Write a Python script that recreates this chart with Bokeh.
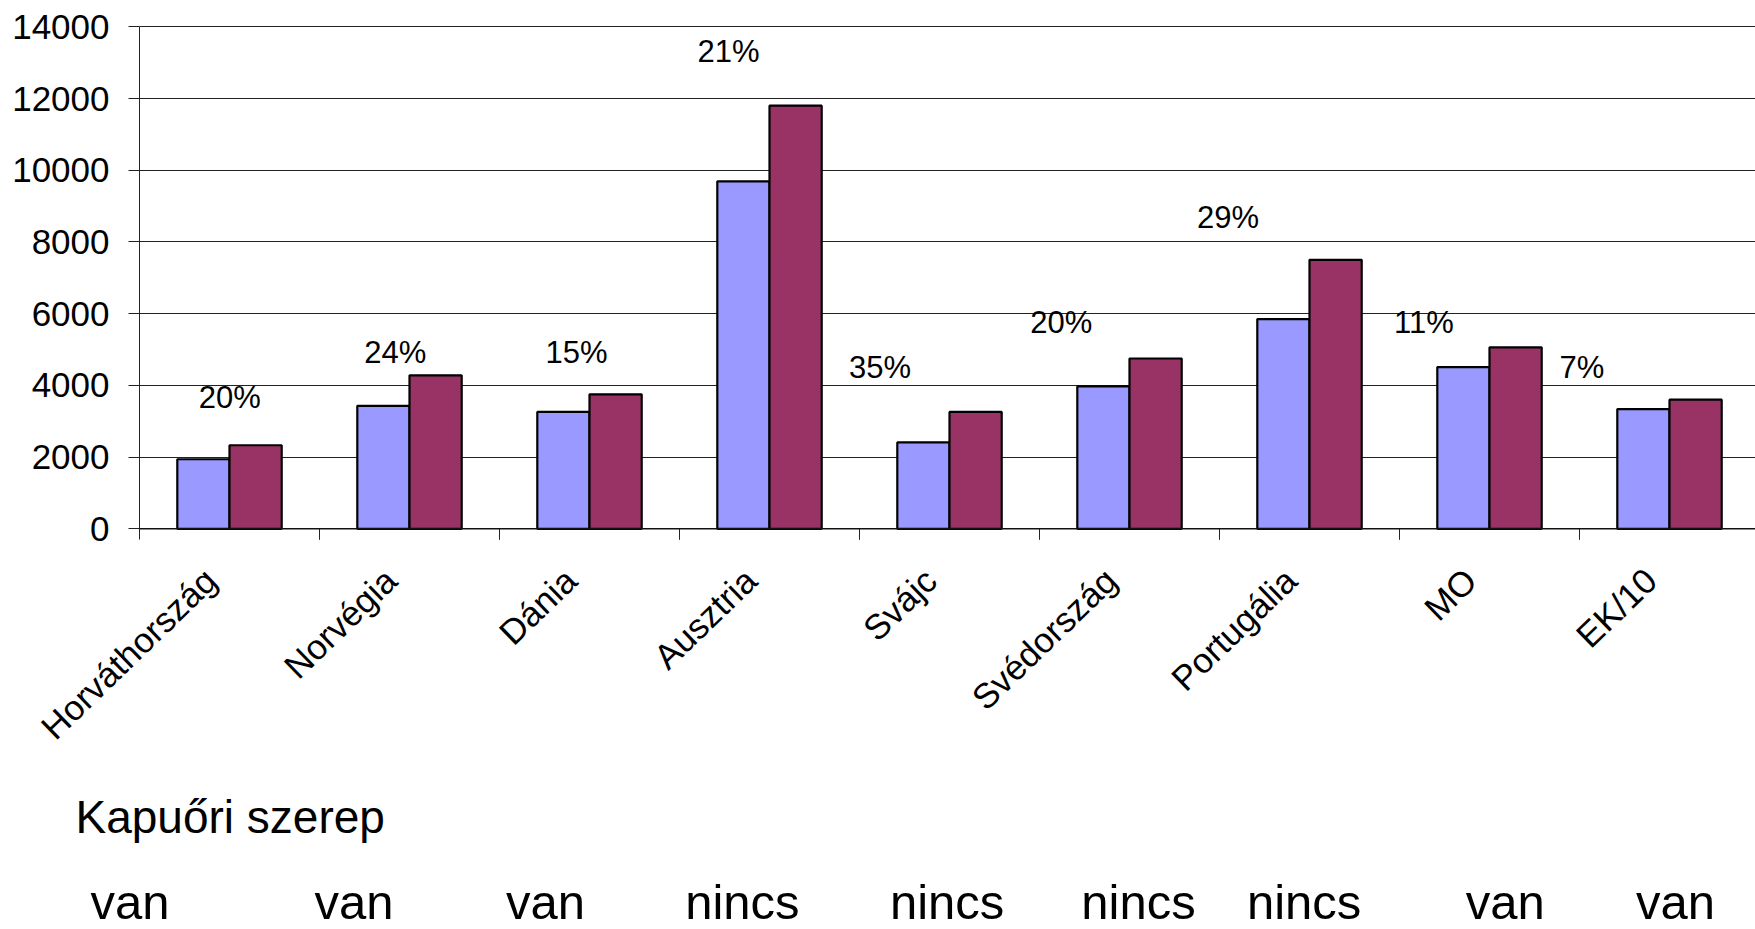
from bokeh.plotting import figure
from bokeh.layouts import column
from bokeh.models import ColumnDataSource, Range1d, FixedTicker, Span
from bokeh.core.properties import value
from bokeh.embed import file_html
from bokeh.resources import INLINE
import math

# ---------------- data ----------------
countries = ["Horváthország", "Norvégia", "Dánia", "Ausztria", "Svájc",
             "Svédország", "Portugália", "MO", "EK/10"]
series_a = [1940, 3430, 3260, 9690, 2410, 3970, 5850, 4510, 3340]
series_b = [2330, 4280, 3750, 11800, 3260, 4750, 7500, 5060, 3600]
pct_labels = ["20%", "24%", "15%", "21%", "35%", "20%", "29%", "11%", "7%"]
pct_x = [0.501, 1.421, 2.428, 3.272, 4.114, 5.121, 6.048, 7.136, 8.013]
pct_y = [3670, 4925, 4925, 13325, 4507, 5762, 8690, 5762, 4507]
role_title = "Kapuőri szerep"
role_values = ["van", "van", "van", "nincs", "nincs", "nincs", "nincs", "van", "van"]
role_x = [-0.053, 1.191, 2.255, 3.349, 4.487, 5.550, 6.470, 7.587, 8.534]
y_ticks = [0, 2000, 4000, 6000, 8000, 10000, 12000, 14000]

# ---------------- layout constants (pixels) ----------------
W = 1755
H_MAIN = 550
H_LOWER = 929 - H_MAIN
OFFSET = 17               # observed vertical offset of the lower panel's texts
BORDER_LEFT = 139
BORDER_TOP = 8
CAT_PX = 180.0
ZERO_Y = 528.3            # pixel row of value 0
PX_PER_UNIT = 0.035857    # pixels per data unit

def cat_at_x(px):
    return (px - BORDER_LEFT) / CAT_PX

y_max = (ZERO_Y - BORDER_TOP) / PX_PER_UNIT
y_min = -(H_MAIN - ZERO_Y) / PX_PER_UNIT
x_max = cat_at_x(W)

p = figure(width=W, height=H_MAIN, output_backend="svg", toolbar_location=None,
           x_range=Range1d(0, x_max), y_range=Range1d(y_min, y_max),
           x_axis_location=None, y_axis_location="left",
           min_border_left=BORDER_LEFT, min_border_right=0,
           min_border_top=BORDER_TOP, min_border_bottom=0)
p.outline_line_color = None
p.frame_align = False

for g in p.xgrid:
    g.visible = False
p.ygrid.ticker = FixedTicker(ticks=y_ticks)
p.ygrid.grid_line_color = "#222222"
p.ygrid.grid_line_width = 1

tick_len_units = 11 / PX_PER_UNIT
ax = p.yaxis[0]
ax.ticker = FixedTicker(ticks=y_ticks)
ax.bounds = (-tick_len_units, 14000)
ax.axis_line_color = "#222222"
ax.axis_line_width = 1
ax.major_tick_line_color = "#222222"
ax.major_tick_out = 11
ax.major_tick_in = 0
ax.minor_tick_line_color = None
ax.major_label_standoff = 19
ax.major_label_text_font = "Liberation Sans"
ax.major_label_text_font_size = "35px"
ax.major_label_text_color = "black"

# bars
centers = [i + 0.5 for i in range(len(countries))]
bar_w = 0.29
src = ColumnDataSource(dict(
    xa=[c - bar_w / 2 for c in centers],
    xb=[c + bar_w / 2 for c in centers],
    a=series_a, b=series_b))
p.vbar(x="xa", top="a", bottom=0, width=bar_w, source=src,
       fill_color="#9999FF", line_color="black", line_width=2.2)
p.vbar(x="xb", top="b", bottom=0, width=bar_w, source=src,
       fill_color="#993366", line_color="black", line_width=2.2)

# category axis line and boundary ticks
p.add_layout(Span(location=0, dimension="width", line_color="#111111", line_width=1.5))
bounds = list(range(1, len(countries) + 1))
p.segment(x0=bounds, y0=[0] * len(bounds), x1=bounds, y1=[-tick_len_units] * len(bounds),
          line_color="#222222", line_width=1)

FONT = value("Liberation Sans")

# percent labels
pct_src = ColumnDataSource(dict(x=pct_x, y=pct_y, t=pct_labels))
p.text(x="x", y="y", text="t", source=pct_src,
       text_font=FONT, text_font_size=value("31px"),
       text_align="center", text_baseline="middle", text_color="black")

# ---------------- lower panel: category names and the "Kapuőri szerep" rows ----------------
def low_y(py):
    # pixel row (from top of page) -> lower panel data coordinate
    return (H_MAIN + H_LOWER + OFFSET) - py

q = figure(width=W, height=H_LOWER, output_backend="svg", toolbar_location=None,
           x_range=Range1d(cat_at_x(0), cat_at_x(W)), y_range=Range1d(0, H_LOWER),
           x_axis_location=None, y_axis_location=None,
           min_border_left=0, min_border_right=0, min_border_top=0, min_border_bottom=0)
q.outline_line_color = None
q.grid.visible = False
q.frame_align = False

cat_src = ColumnDataSource(dict(
    x=[c - 19 / CAT_PX for c in centers],
    y=[low_y(591)] * len(centers),
    t=countries))
q.text(x="x", y="y", text="t", source=cat_src, angle=math.radians(44),
       text_font=FONT, text_font_size=value("35px"),
       text_align="right", text_baseline="alphabetic", text_color="black")

title_src = ColumnDataSource(dict(x=[cat_at_x(75)], y=[low_y(833.3)], t=[role_title]))
q.text(x="x", y="y", text="t", source=title_src,
       text_font=FONT, text_font_size=value("46px"),
       text_align="left", text_baseline="alphabetic", text_color="black")

role_src = ColumnDataSource(dict(x=role_x, y=[low_y(918)] * len(role_x), t=role_values))
q.text(x="x", y="y", text="t", source=role_src,
       text_font=FONT, text_font_size=value("49px"),
       text_align="center", text_baseline="alphabetic", text_color="black")

layout = column(p, q, spacing=0)
open("out.html", "w").write(file_html(layout, INLINE))
